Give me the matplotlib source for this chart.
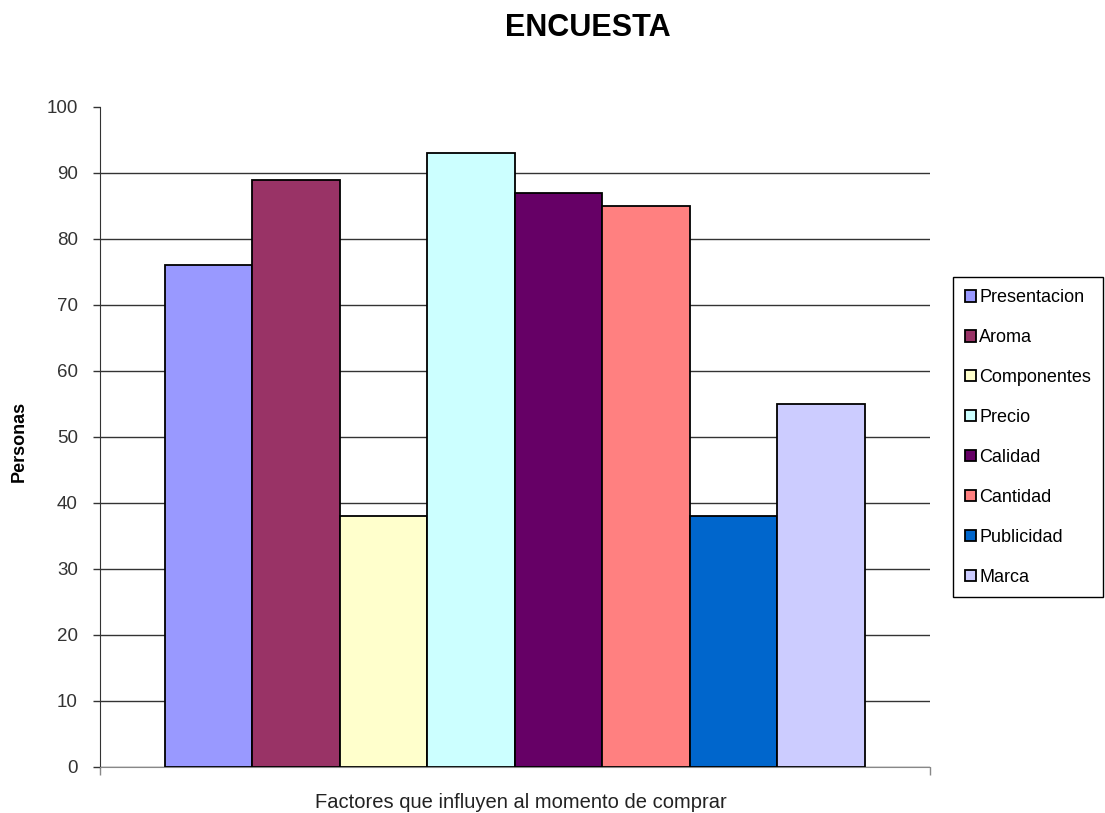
import matplotlib.pyplot as plt
import numpy as np

plt.rcParams['font.family'] = ['Liberation Sans', 'DejaVu Sans']

factores = ['Presentacion', 'Aroma', 'Componentes', 'Precio',
            'Calidad', 'Cantidad', 'Publicidad', 'Marca']
personas = [76, 89, 38, 93, 87, 85, 38, 55]
colores = ['#9999FF', '#993366', '#FFFFCC', '#CCFFFF',
           '#660066', '#FF8080', '#0066CC', '#CCCCFF']
yticks = [0, 10, 20, 30, 40, 50, 60, 70, 80, 90, 100]

fig = plt.figure(figsize=(11.05, 8.13), dpi=100)
ax = fig.add_axes([0.0905, 0.0566, 0.7511, 0.8118])

# one category, one bar per series (Excel style)
n = len(factores)
gap = 0.0783
width = (1 - 2 * gap) / n
for i, (name, val, col) in enumerate(zip(factores, personas, colores)):
    ax.bar(gap + (i + 0.5) * width, val, width=width, color=col,
           edgecolor='black', linewidth=1.3, label=name, zorder=3)

ax.set_xlim(0, 1)
ax.set_ylim(0, 100)
ax.set_yticks(yticks)
ax.set_xticks([0, 1])
ax.set_xticklabels([])
ax.tick_params(axis='y', direction='out', length=5, width=1, colors='#333333',
               labelsize=13.5, labelcolor='#333333', pad=11)
ax.tick_params(axis='x', direction='out', length=6, width=1, colors='#888888')

ax.yaxis.grid(True, color='#333333', linewidth=1)
ax.get_ygridlines()[-1].set_visible(False)
ax.set_axisbelow(True)

for s in ['top', 'right']:
    ax.spines[s].set_visible(False)
ax.spines['left'].set_color('#333333')
ax.spines['bottom'].set_color('#888888')

fig.text(0.532, 0.965, 'ENCUESTA', ha='center', va='center',
         fontsize=22, fontweight='bold')
fig.text(0.0175, 0.4576, 'Personas', ha='center', va='center', rotation=90,
         fontsize=13, fontweight='bold')
fig.text(0.4715, 0.0135, 'Factores que influyen al momento de comprar',
         ha='center', va='center', fontsize=14.5, color='#222222')

leg = ax.legend(loc='center left', bbox_to_anchor=(0.8624, 0.4619),
                bbox_transform=fig.transFigure, fontsize=13,
                fancybox=False, framealpha=1, edgecolor='black',
                handlelength=0.6, handleheight=0.6, handletextpad=0.2,
                labelspacing=1.27, borderpad=0.65, borderaxespad=0)
leg.get_frame().set_linewidth(1)

plt.savefig('out.png', dpi=100)
